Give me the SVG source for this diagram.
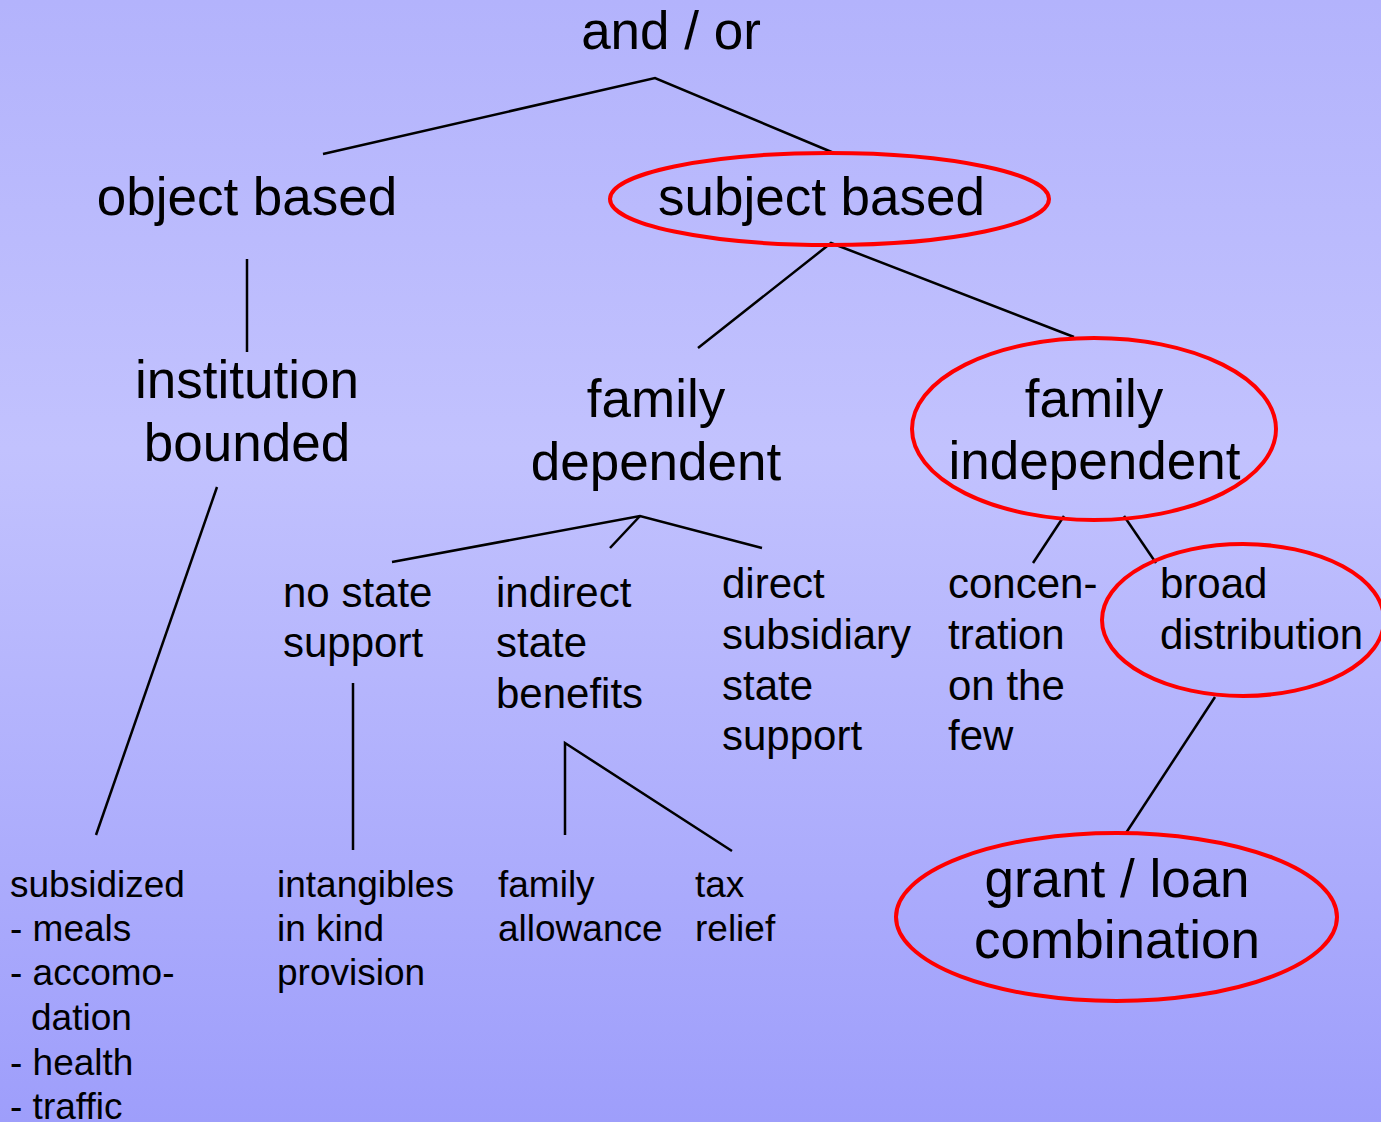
<svg xmlns="http://www.w3.org/2000/svg" width="1381" height="1122" viewBox="0 0 1381 1122">
<defs>
<linearGradient id="bg" x1="0" y1="0" x2="0" y2="1">
<stop offset="0" stop-color="#b3b3fc"/>
<stop offset="0.4" stop-color="#c2c2fe"/>
<stop offset="1" stop-color="#9e9efb"/>
</linearGradient>
<style>
text{font-family:"Liberation Sans",Arial,sans-serif;fill:#000}
.L{font-size:53px;text-anchor:middle}
.M{font-size:42px}
.S{font-size:37px}
.ring{fill:none;stroke:#ff0000;stroke-width:4}
.c{fill:none;stroke:#000;stroke-width:2.5}
</style>
</defs>
<rect width="1381" height="1122" fill="url(#bg)"/>
<g id="connectors">
<polyline class="c" points="323,154 655,78 834,153"/>
<line class="c" x1="247" y1="259" x2="247" y2="352"/>
<polyline class="c" points="698,348 831,243 1074,337"/>
<line class="c" x1="217" y1="487" x2="96" y2="835"/>
<polyline class="c" points="392,562 640,516 762,548"/>
<line class="c" x1="640" y1="516" x2="610" y2="548"/>
<line class="c" x1="353" y1="683" x2="353" y2="850"/>
<polyline class="c" points="565,835 565,743 732,851"/>
<line class="c" x1="1064" y1="516" x2="1033" y2="563"/>
<line class="c" x1="1124" y1="516" x2="1156" y2="563"/>
<line class="c" x1="1215" y1="697" x2="1126" y2="833"/>
</g>
<g id="and-or"><text class="L" x="671" y="49">and / or</text></g>
<g id="object-based"><text class="L" x="247" y="215">object based</text></g>
<g id="subject-based"><ellipse class="ring" cx="829.5" cy="199" rx="219.5" ry="46"/><text class="L" x="821.5" y="215">subject based</text></g>
<g id="institution-bounded"><text class="L" x="247" y="398">institution</text><text class="L" x="247" y="461">bounded</text></g>
<g id="family-dependent"><text class="L" x="656" y="417">family</text><text class="L" x="656" y="480">dependent</text></g>
<g id="family-independent"><ellipse class="ring" cx="1094" cy="429" rx="182" ry="91"/><text class="L" x="1094" y="417">family</text><text class="L" x="1094.5" y="479">independent</text></g>
<g id="no-state-support"><text class="M" x="283" y="607">no state</text><text class="M" x="283" y="657">support</text></g>
<g id="indirect-state-benefits"><text class="M" x="496" y="607">indirect</text><text class="M" x="496" y="657">state</text><text class="M" x="496" y="708">benefits</text></g>
<g id="direct-subsidiary"><text class="M" x="722" y="598">direct</text><text class="M" x="722" y="649">subsidiary</text><text class="M" x="722" y="700">state</text><text class="M" x="722" y="750">support</text></g>
<g id="concentration"><text class="M" x="948" y="598">concen-</text><text class="M" x="948" y="649">tration</text><text class="M" x="948" y="700">on the</text><text class="M" x="948" y="750">few</text></g>
<g id="broad-distribution"><ellipse class="ring" cx="1243" cy="620" rx="141" ry="76"/><text class="M" x="1160" y="598">broad</text><text class="M" x="1160" y="649">distribution</text></g>
<g id="subsidized"><text class="S" x="10" y="897">subsidized</text><text class="S" x="10" y="941">- meals</text><text class="S" x="10" y="985">- accomo-</text><text class="S" x="31" y="1030">dation</text><text class="S" x="10" y="1075">- health</text><text class="S" x="10" y="1119">- traffic</text></g>
<g id="intangibles"><text class="S" x="277" y="897">intangibles</text><text class="S" x="277" y="941">in kind</text><text class="S" x="277" y="985">provision</text></g>
<g id="family-allowance"><text class="S" x="498" y="897">family</text><text class="S" x="498" y="941">allowance</text></g>
<g id="tax-relief"><text class="S" x="695" y="897">tax</text><text class="S" x="695" y="941">relief</text></g>
<g id="grant-loan"><ellipse class="ring" cx="1116.5" cy="917" rx="220.5" ry="84"/><text class="L" x="1117" y="897">grant / loan</text><text class="L" x="1117" y="958">combination</text></g>
</svg>
